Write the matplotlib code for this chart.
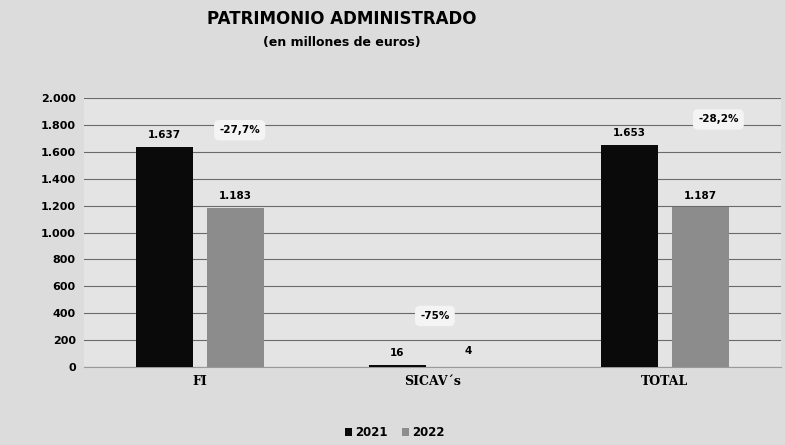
import matplotlib
matplotlib.use("Agg")
import matplotlib.pyplot as plt
import numpy as np

categories = ["FI", "SICAV´s", "TOTAL"]
values_2021 = [1637, 16, 1653]
values_2022 = [1183, 4, 1187]
labels_2021 = ["1.637", "16", "1.653"]
labels_2022 = ["1.183", "4", "1.187"]
pct_labels = ["-27,7%", "-75%", "-28,2%"]
pct_y = [1760, 380, 1840]
yticks = [0, 200, 400, 600, 800, 1000, 1200, 1400, 1600, 1800, 2000]
ytick_labels = ["0", "200", "400", "600", "800", "1.000", "1.200", "1.400", "1.600", "1.800", "2.000"]

fig = plt.figure(figsize=(7.85, 4.45), dpi=100)
fig.patch.set_facecolor("#dcdcdc")
ax = fig.add_axes([0.107, 0.175, 0.888, 0.605])
ax.set_facecolor("#e4e4e4")

x = np.arange(len(categories))
w = 0.245
gap = 0.03
ax.bar(x - w / 2 - gap, values_2021, w, color="#0a0a0a", label="2021", zorder=3)
ax.bar(x + w / 2 + gap, values_2022, w, color="#8c8c8c", label="2022", zorder=3)

pct_dx = [0.17, 0.01, 0.23]
for i in range(len(categories)):
    ax.text(x[i] - w / 2 - gap, values_2021[i] + 50, labels_2021[i], ha="center", va="bottom",
            fontsize=7.5, fontweight="bold", zorder=4)
    ax.text(x[i] + w / 2 + gap, values_2022[i] + 50 if values_2022[i] > 100 else 80, labels_2022[i],
            ha="center", va="bottom", fontsize=7.5, fontweight="bold", zorder=4)
    ax.text(x[i] + pct_dx[i], pct_y[i], pct_labels[i], ha="center", va="center",
            fontsize=7.5, fontweight="bold", zorder=5,
            bbox=dict(boxstyle="round,pad=0.5", facecolor="#f4f4f4", edgecolor="none"))

ax.set_xlim(-0.5, 2.5)
ax.set_ylim(0, 2000)
ax.set_yticks(yticks)
ax.set_yticklabels(ytick_labels, fontsize=8, fontweight="bold")
ax.set_xticks(x)
ax.set_xticklabels(categories, fontsize=9, fontweight="bold", family="DejaVu Serif")
ax.tick_params(axis="both", length=0, pad=6)
ax.yaxis.grid(True, color="#6a6a6a", linewidth=0.8, zorder=0)
for s in ["top", "right", "left"]:
    ax.spines[s].set_visible(False)
ax.spines["bottom"].set_color("#9a9a9a")

fig.text(0.435, 0.958, "PATRIMONIO ADMINISTRADO", ha="center", va="center",
         fontsize=12, fontweight="bold")
fig.text(0.435, 0.905, "(en millones de euros)", ha="center", va="center",
         fontsize=9, fontweight="bold")

fig.legend(loc="center", bbox_to_anchor=(0.503, 0.028), ncol=2, frameon=False,
           prop={"weight": "bold", "size": 8.5}, handlelength=0.6,
           handleheight=0.6, columnspacing=1.2, handletextpad=0.3)

fig.savefig("out.png", dpi=100, facecolor=fig.get_facecolor())
